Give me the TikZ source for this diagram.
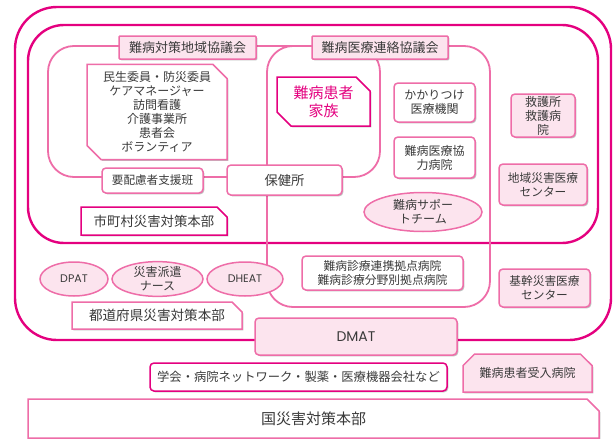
\documentclass[tikz,border=0pt]{standalone}
\usepackage{fontspec}
\setmainfont{Noto Sans CJK JP}
\newfontfamily\latf{Poppins}
\usetikzlibrary{shapes.misc,shapes.geometric,shadows}
\definecolor{deep}{HTML}{E4007F}
\definecolor{mid}{HTML}{EE6DA8}
\definecolor{lite}{HTML}{FCE4EE}
\definecolor{txt}{HTML}{3A3A3A}
\tikzset{
  shad/.style={drop shadow={shadow xshift=1.3pt,shadow yshift=-1.3pt,opacity=0.25,fill=black}},
  box/.style={draw=mid,line width=1.5pt,fill=white,rounded corners=4pt,inner sep=0pt,
    align=center,text=txt,font=\fontsize{12}{14}\selectfont,shad},
  pbox/.style={box,fill=lite},
  dbox/.style={box,draw=deep},
  cbox/.style={draw=mid,line width=1.5pt,fill=white,chamfered rectangle,
    chamfered rectangle xsep=7pt,chamfered rectangle ysep=7pt,inner sep=0pt,
    align=center,text=txt,font=\fontsize{12}{14}\selectfont,shad},
  ell/.style={draw=mid,line width=1.5pt,fill=lite,ellipse,inner sep=0pt,align=center,
    text=txt,font=\fontsize{12}{14}\selectfont},
  frame/.style={draw=deep,line width=2.4pt},
  council/.style={draw=mid,line width=1.8pt},
}
\begin{document}
\begin{tikzpicture}[x=1pt,y=-1pt]
\useasboundingbox (0,0) rectangle (614,439);
% containers
\draw[frame,rounded corners=42pt] (15,7) rectangle (611,340);
\draw[frame,rounded corners=36pt] (28,25) rectangle (598,243);
\draw[council,rounded corners=26pt] (48,46) rectangle (380,177);
\draw[council,rounded corners=26pt] (267,46) rectangle (490,307);
% council labels
\node[pbox,minimum width=137pt,minimum height=23pt,font=\fontsize{13}{15}\selectfont,rounded corners=1pt] (lbl1) at (187.5,47.5) {難病対策地域協議会};
\node[pbox,minimum width=136pt,minimum height=23pt,font=\fontsize{13}{15}\selectfont,rounded corners=1pt] (lbl2) at (380,47.5) {難病医療連絡協議会};
% community side
\node[cbox,chamfered rectangle corners={north east,south west},minimum width=140pt,minimum height=92pt] (minsei) at (157,112)
  {民生委員・防災委員\\ケアマネージャー\\訪問看護\\介護事業所\\患者会\\ボランティア};
\node[box,minimum width=101pt,minimum height=25pt,font=\fontsize{11.6}{14}\selectfont] (yohai) at (152.5,180.5) {要配慮者支援班};
\node[box,minimum width=115pt,minimum height=30pt,font=\fontsize{13.3}{15}\selectfont] (hoken) at (284.5,180) {保健所};
\node[cbox,draw=deep,chamfered rectangle corners={north east,south west},minimum width=93pt,minimum height=49pt,
  text=deep,font=\fontsize{15}{18}\selectfont] (kanja) at (323.5,101.5) {難病患者\\家族};
\node[box,minimum width=81pt,minimum height=39pt] (kakari) at (434.5,102.5) {かかりつけ\\医療機関};
\node[box,minimum width=81pt,minimum height=41pt] (kyoryoku) at (434.5,157.5) {難病医療協\\力病院};
\node[ell,minimum width=118pt,minimum height=39pt] (support) at (423,212) {難病サポー\\トチーム};
\node[pbox,minimum width=64pt,minimum height=43pt] (kyugo) at (543,115.5) {救護所\\救護病\\院};
\node[pbox,minimum width=88pt,minimum height=41pt,font=\fontsize{11.7}{14}\selectfont] (chiiki) at (543,184.5) {地域災害医療\\センター};
\node[cbox,draw=deep,chamfered rectangle corners=north east,chamfered rectangle xsep=5pt,chamfered rectangle ysep=5pt,
  minimum width=146pt,minimum height=28pt,font=\fontsize{13.4}{15}\selectfont] (shicho) at (154,221) {市町村災害対策本部};
% prefecture level
\node[ell,minimum width=68pt,minimum height=34pt,font=\latf\fontsize{11}{13}\selectfont] (dpat) at (74,279) {DPAT};
\node[ell,minimum width=91pt,minimum height=34pt] (nurse) at (157.5,279) {災害派遣\\ナース};
\node[ell,minimum width=76pt,minimum height=34pt,font=\latf\fontsize{11}{13}\selectfont] (dheat) at (245,279) {DHEAT};
\node[cbox,chamfered rectangle corners=north east,chamfered rectangle xsep=5pt,chamfered rectangle ysep=5pt,
  minimum width=170pt,minimum height=27pt,font=\fontsize{13.6}{15}\selectfont] (todo) at (157,315.5) {都道府県災害対策本部};
\node[box,minimum width=161pt,minimum height=34pt,font=\fontsize{11.8}{14}\selectfont] (kyoten) at (382.5,273)
  {難病診療連携拠点病院\\難病診療分野別拠点病院};
\node[pbox,minimum width=91pt,minimum height=38pt,font=\fontsize{11.7}{14}\selectfont] (kikan) at (544.5,288) {基幹災害医療\\センター};
\node[pbox,minimum width=202pt,minimum height=37pt,font=\latf\fontsize{14}{16}\selectfont] (dmat) at (356,336.5) {DMAT};
% national level
\node[dbox,minimum width=297pt,minimum height=28pt,font=\fontsize{12.3}{14}\selectfont] (gakkai) at (298.5,377)
  {学会・病院ネットワーク・製薬・医療機器会社など};
\node[cbox,fill=lite,chamfered rectangle corners={north west,north east},chamfered rectangle xsep=6pt,chamfered rectangle ysep=6pt,
  minimum width=129pt,minimum height=38pt] (ukeire) at (527.5,373) {難病患者受入病院};
\node[cbox,chamfered rectangle corners=north east,chamfered rectangle xsep=6pt,chamfered rectangle ysep=6pt,
  minimum width=571pt,minimum height=39pt,font=\fontsize{15}{17}\selectfont] (kuni) at (313.5,418.5) {国災害対策本部};
\end{tikzpicture}
\end{document}
